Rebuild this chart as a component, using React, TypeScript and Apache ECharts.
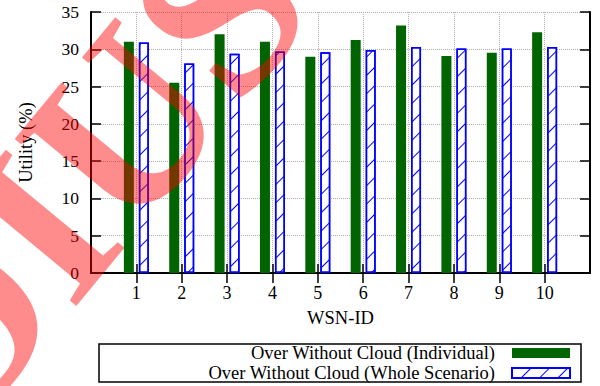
import React, { useEffect, useRef } from 'react';
import * as echarts from 'echarts';

const categories = ['1', '2', '3', '4', '5', '6', '7', '8', '9', '10'];
const individual = [31.0, 25.5, 32.0, 31.0, 29.0, 31.25, 33.2, 29.1, 29.55, 32.3];
const wholeScenario = [30.9, 28.1, 29.4, 29.7, 29.6, 29.9, 30.3, 30.1, 30.1, 30.3];
const seriesNames = ['Over Without Cloud (Individual)', 'Over Without Cloud (Whole Scenario)'];
const yMin = 0;
const yMax = 35;
const yStep = 5;
const xAxisName = 'WSN-ID';
const yAxisName = 'Utility (%)';
const watermarkText = 'DIUS';

const FONT = '"Liberation Serif", "Times New Roman", serif';

export default function App() {
  const ref = useRef<HTMLDivElement>(null);

  useEffect(() => {
    document.body.style.margin = '0';
    if (!ref.current) return;
    const chart = echarts.init(ref.current, undefined, { renderer: 'svg' });
    const xData = ['', ...categories, ''];
    const inner = (i: number) => i > 0 && i < xData.length - 1;
    const frameLine = { show: true, lineStyle: { color: '#000', width: 2 } };
    const grid = { type: 'dotted' as const, color: '#b0b0b0', width: 1 };

    chart.setOption({
      animation: false,
      backgroundColor: '#fff',
      grid: { left: 91, right: 10, top: 12, bottom: 113, containLabel: false },
      legend: {
        orient: 'vertical',
        align: 'right',
        right: 29,
        top: 343,
        padding: 0,
        itemGap: 0,
        itemWidth: 58,
        itemHeight: 10,
        selectedMode: false,
        textStyle: { fontSize: 18.5, fontFamily: FONT, color: '#000', lineHeight: 20, padding: [0, 12, 0, 0] },
        data: [
          { name: seriesNames[0], icon: 'rect' },
          { name: seriesNames[1], icon: 'rect' },
        ],
      },
      xAxis: [
        {
          type: 'category',
          data: xData,
          boundaryGap: false,
          position: 'bottom',
          axisLine: frameLine,
          axisTick: { show: true, inside: true, length: 9, interval: inner, lineStyle: { color: '#000', width: 1.5 } },
          axisLabel: { interval: 0, color: '#000', fontSize: 18, fontFamily: FONT, margin: 11 },
          splitLine: { show: true, interval: inner, lineStyle: grid },
          name: xAxisName,
          nameLocation: 'middle',
          nameGap: 35,
          nameTextStyle: { color: '#000', fontSize: 18.5, fontFamily: FONT },
        },
        {
          type: 'category',
          data: xData,
          boundaryGap: false,
          position: 'top',
          axisLine: frameLine,
          axisTick: { show: true, inside: true, length: 10, interval: inner, lineStyle: { color: '#000', width: 1.5 } },
          axisLabel: { show: false },
          splitLine: { show: false },
        },
      ],
      yAxis: [
        {
          type: 'value',
          min: yMin,
          max: yMax,
          interval: yStep,
          axisLine: frameLine,
          axisTick: { show: true, inside: true, length: 10, lineStyle: { color: '#000', width: 1.5 } },
          axisLabel: { color: '#000', fontSize: 17.5, fontFamily: FONT, margin: 12 },
          splitLine: { show: true, lineStyle: grid },
          name: yAxisName,
          nameLocation: 'middle',
          nameGap: 56,
          nameTextStyle: { color: '#000', fontSize: 18.5, fontFamily: FONT },
        },
        {
          type: 'value',
          min: yMin,
          max: yMax,
          interval: yStep,
          position: 'right',
          axisLine: frameLine,
          axisTick: { show: true, inside: true, length: 10, lineStyle: { color: '#000', width: 1.5 } },
          axisLabel: { show: false },
          splitLine: { show: false },
        },
      ],
      series: [
        {
          name: seriesNames[0],
          type: 'bar',
          xAxisIndex: 0,
          yAxisIndex: 0,
          barWidth: 10,
          barGap: '50%',
          data: [null, ...individual, null],
          itemStyle: { color: '#006400' },
        },
        {
          name: seriesNames[1],
          type: 'bar',
          xAxisIndex: 0,
          yAxisIndex: 0,
          barWidth: 10,
          barGap: '50%',
          data: [null, ...wholeScenario, null],
          itemStyle: {
            color: '#ffffff',
            borderColor: '#0000ff',
            borderWidth: 1.5,
            decal: {
              symbol: 'rect',
              symbolSize: 1,
              color: '#0000ff',
              dashArrayX: [1, 0],
              dashArrayY: [1, 12],
              rotation: -Math.PI / 4,
            },
          },
        },
      ],
      graphic: [
        {
          type: 'rect',
          shape: { x: 99, y: 344, width: 482, height: 38 },
          style: { fill: 'none', stroke: '#000', lineWidth: 1.5 },
          z: 50,
        },
        {
          type: 'text',
          x: 81,
          y: 176,
          rotation: 0.88,
          silent: true,
          style: {
            text: watermarkText,
            font: 'bold 235px "Liberation Serif", serif',
            fill: 'rgba(255,0,0,0.45)',
            align: 'center',
            verticalAlign: 'middle',
          },
          z: 100,
        },
      ],
    });

    return () => chart.dispose();
  }, []);

  return <div ref={ref} style={{ width: 600, height: 386 }} />;
}
